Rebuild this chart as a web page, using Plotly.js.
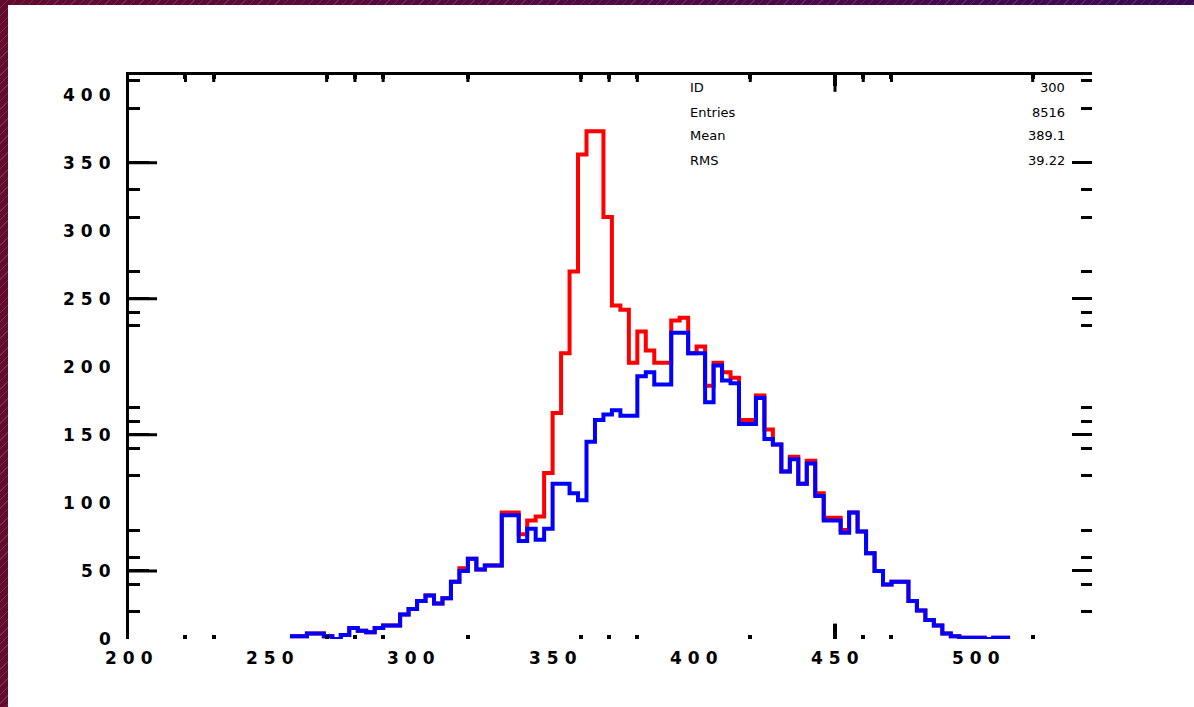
<!DOCTYPE html>
<html>
<head>
<meta charset="utf-8">
<script src="https://cdn.plot.ly/plotly-3.0.1.min.js"></script>
<style>
  html, body { margin: 0; padding: 0; width: 1194px; height: 707px; overflow: hidden; }
  body {
    background:
      repeating-linear-gradient(135deg, rgba(255,255,255,0) 0px, rgba(255,255,255,0) 5px,
                                rgba(255,180,215,0.16) 5px, rgba(255,180,215,0.16) 6px),
      linear-gradient(90deg, #620b2f 0%, #4e0a45 55%, #3a0a54 100%);
  }
  #chart { position: absolute; left: 8px; top: 5px; width: 1186px; height: 702px; }
</style>
</head>
<body>
<div id="chart"></div>
<script>
// Histogram binning: 3-unit bins, first filled bin starts at 257
const binLow = 257;
const binWidth = 3;

// Bin contents, blue histogram (drawn on top)
const blueCounts = [
  2, 2, 4, 4, 2, 0, 3, 8, 6, 5,
  8, 10, 10, 18, 22, 28, 32, 26, 30, 42,
  50, 59, 51, 54, 54, 91, 91, 72, 81, 73,
  81, 114, 114, 107, 102, 145, 161, 165, 168, 164,
  164, 193, 196, 187, 187, 225, 225, 210, 210, 174,
  201, 190, 188, 158, 158, 177, 147, 143, 123, 132,
  114, 129, 105, 87, 87, 78, 93, 79, 63, 50,
  40, 42, 42, 28, 21, 14, 10, 4, 2, 1,
  1, 1, 0, 1, 1
];

// Bin contents, red histogram (same binning)
const redCounts = [
  2, 2, 4, 4, 2, 0, 3, 8, 6, 5,
  8, 10, 10, 18, 22, 28, 32, 26, 30, 42,
  52, 59, 51, 54, 54, 93, 93, 77, 87, 90,
  122, 166, 210, 270, 356, 373, 373, 310, 245, 242,
  203, 226, 212, 203, 203, 234, 236, 210, 215, 186,
  203, 196, 192, 161, 161, 179, 154, 143, 123, 134,
  114, 131, 107, 89, 89, 80, 93, 79, 63, 50,
  40, 42, 42, 28, 21, 14, 10, 4, 2, 1,
  1, 1, 0, 1, 1
];

// Axis labelling and tick marks
const xLabelVals = [200, 250, 300, 350, 400, 450, 500];
const yLabelVals = [0, 50, 100, 150, 200, 250, 300, 350, 400];
const xMinorTicks = [220, 230, 270, 280, 290, 320, 360, 370, 380, 420, 460, 470, 520];
const xMajorTicks = [450];
const yMinorTicks = [20, 40, 60, 80, 120, 140, 160, 170, 230, 240, 270, 310, 330, 390, 410];
const yMajorTicks = [50, 150, 250, 350];

const X_RANGE = [200, 541];
const Y_RANGE = [0, 414.4];

function stepLine(counts) {
  const x = [], y = [];
  counts.forEach((c, i) => { x.push(binLow + i * binWidth); y.push(c); });
  x.push(binLow + counts.length * binWidth);
  y.push(counts[counts.length - 1]);
  return { x, y };
}

// Statistics of the red histogram for the stats box
function stats(counts) {
  let n = 0, s = 0, s2 = 0;
  counts.forEach((c, i) => {
    const xc = binLow + (i + 0.5) * binWidth;
    n += c; s += c * xc; s2 += c * xc * xc;
  });
  const mean = s / n;
  return { n, mean, rms: Math.sqrt(s2 / n - mean * mean) };
}

const red = stepLine(redCounts);
const blue = stepLine(blueCounts);
const st = stats(redCounts);

// empty trace that only makes a frame-line axis get drawn
function axisHolder(xa, ya) {
  return { x: [], y: [], type: 'scatter', mode: 'lines', xaxis: xa, yaxis: ya, hoverinfo: 'skip' };
}

// tick marks drawn as line markers sitting on the frame edge; the plot-area clip
// keeps only the inner half, so the visible length is half the marker size
function edgeTicks(xs, ys, symbol, size, width) {
  return { x: xs, y: ys, type: 'scatter', mode: 'markers', hoverinfo: 'skip', cliponaxis: true,
    marker: { symbol: symbol, size: size, color: '#000', line: { color: '#000', width: width } } };
}

const traces = [
  { x: red.x, y: red.y, type: 'scatter', mode: 'lines',
    line: { shape: 'hv', color: '#ff0000', width: 4 }, hoverinfo: 'skip' },
  { x: blue.x, y: blue.y, type: 'scatter', mode: 'lines',
    line: { shape: 'hv', color: '#0000ff', width: 4 }, hoverinfo: 'skip' },
  axisHolder('x2', 'y'),
  axisHolder('x', 'y2'),
  // long ticks on the left edge
  edgeTicks(yMajorTicks.map(() => X_RANGE[0]), yMajorTicks, 'line-ew', 40, 3),
  // ticks hanging from the top edge
  edgeTicks(xMinorTicks, xMinorTicks.map(() => Y_RANGE[1]), 'line-ns', 10, 3),
  edgeTicks(xMajorTicks, xMajorTicks.map(() => Y_RANGE[1]), 'line-ns', 24, 3),
  // long tick on the bottom edge
  edgeTicks(xMajorTicks, xMajorTicks.map(() => Y_RANGE[0]), 'line-ns', 22, 4)
];

const labelFont = { family: 'DejaVu Sans', size: 17, weight: 'bold', color: '#000' };
const statFont = { family: 'DejaVu Sans', size: 13, color: '#000' };
const spaced = v => '<span style="letter-spacing:6px">' + v + '</span>';

const annotations = [];
// axis numbers
yLabelVals.forEach(v => annotations.push({
  xref: 'paper', x: 0, xanchor: 'right', xshift: -10,
  yref: 'y', y: v, yanchor: 'middle',
  text: spaced(v), showarrow: false, font: labelFont
}));
xLabelVals.forEach(v => annotations.push({
  xref: 'x', x: v, xanchor: 'center', xshift: 3,
  yref: 'paper', y: 0, yanchor: 'top', yshift: -7,
  text: spaced(v), showarrow: false, font: labelFont
}));
// stats box
const statRows = [
  ['ID', '300'],
  ['Entries', String(Math.round(st.n))],
  ['Mean', st.mean.toFixed(1)],
  ['RMS', st.rms.toFixed(2)]
];
const rowY = [0.977, 0.933, 0.892, 0.849];
statRows.forEach((r, i) => {
  annotations.push({ xref: 'paper', yref: 'paper', x: 0.580, y: rowY[i], xanchor: 'left',
    yanchor: 'middle', text: r[0], showarrow: false, font: statFont });
  annotations.push({ xref: 'paper', yref: 'paper', x: 0.974, y: rowY[i], xanchor: 'right',
    yanchor: 'middle', text: r[1], showarrow: false, font: statFont });
});

const layout = {
  width: 1186, height: 702,
  margin: { l: 121, r: 102, t: 70, b: 68, pad: 0 },
  paper_bgcolor: '#ffffff', plot_bgcolor: '#ffffff',
  showlegend: false,
  // bottom ticks, mirrored along the top
  xaxis: {
    range: X_RANGE, showgrid: false, zeroline: false, showline: false, mirror: 'ticks',
    tickmode: 'array', tickvals: xMajorTicks, ticks: 'inside', ticklen: 11, tickwidth: 4,
    tickcolor: '#000', showticklabels: false,
    minor: { tickmode: 'array', tickvals: xMinorTicks, ticks: 'inside', ticklen: 4,
             tickwidth: 4, tickcolor: '#000', showgrid: false }
  },
  // left ticks, mirrored along the right
  yaxis: {
    range: Y_RANGE, showgrid: false, zeroline: false, showline: false, mirror: 'ticks',
    tickmode: 'array', tickvals: yMajorTicks, ticks: 'inside', ticklen: 20, tickwidth: 3,
    tickcolor: '#000', showticklabels: false,
    minor: { tickmode: 'array', tickvals: yMinorTicks, ticks: 'inside', ticklen: 11,
             tickwidth: 3, tickcolor: '#000', showgrid: false }
  },
  // frame lines: top and left only
  xaxis2: {
    overlaying: 'x', side: 'top', anchor: 'y', range: X_RANGE,
    showgrid: false, zeroline: false, showline: true, linewidth: 3, linecolor: '#000',
    ticks: '', showticklabels: false
  },
  yaxis2: {
    overlaying: 'y', side: 'left', anchor: 'x', range: Y_RANGE,
    showgrid: false, zeroline: false, showline: true, linewidth: 3, linecolor: '#000',
    ticks: '', showticklabels: false
  },
  annotations: annotations
};

Plotly.newPlot('chart', traces, layout, { staticPlot: true, displayModeBar: false });
</script>
</body>
</html>
